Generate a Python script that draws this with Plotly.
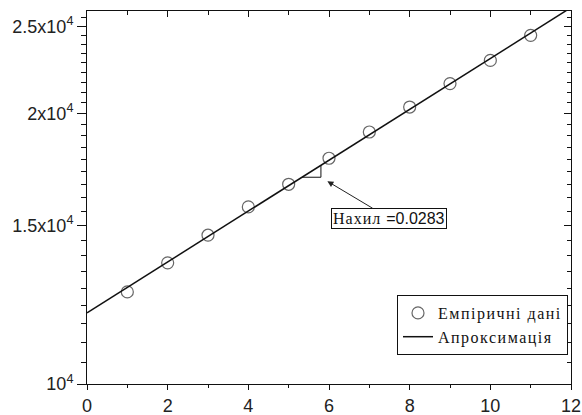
import numpy as np
import plotly.graph_objects as go

# ---- data ----
x_emp = [1, 2, 3, 4, 5, 6, 7, 8, 9, 10, 11]
y_emp = [12660, 13640, 14640, 15740, 16680, 17830, 19070, 20330, 21590, 22910, 24430]

fit_x = [0, 12]
fit_y = [12000, 26230]

slope_label = ["Нахил ", "=0.0283"]
tri_x = [5.33, 5.80]          # slope triangle corners (x)
arrow_head = [5.96, 16810]    # where the label's arrow points

y_major = [10000, 15000, 20000, 25000]
y_major_text = ["10<sup>4</sup>", "1.5x10<sup>4</sup>", "2x10<sup>4</sup>", "2.5x10<sup>4</sup>"]
x_major = [0, 2, 4, 6, 8, 10, 12]

legend_names = ["Емпіричні дані", "Апроксимація"]

# ---- helpers ----
def fit_at(xv):
    lx0, lx1 = fit_x
    ly0, ly1 = np.log10(fit_y[0]), np.log10(fit_y[1])
    return 10 ** (ly0 + (ly1 - ly0) * (xv - lx0) / (lx1 - lx0))

def spaced(t, px):
    return f"<span style='letter-spacing:{px}px'>{t}</span>"

y_top = 26000
y_minor = []
for m in y_major:
    for k in range(1, 9):
        v = m + k * 5000 / 9
        if v <= y_top:
            y_minor.append(v)

SANS = "Liberation Sans, Arial, sans-serif"
SERIF = "Liberation Serif, Times New Roman, serif"

fig = go.Figure()

fig.add_trace(go.Scatter(
    x=x_emp, y=y_emp, mode="markers", name=spaced(legend_names[0], 1.5),
    marker=dict(symbol="circle-open", size=12, color="#666666", line=dict(width=1.2, color="#666666")),
))
fig.add_trace(go.Scatter(
    x=fit_x, y=fit_y, mode="lines", name=spaced(legend_names[1], 1.5),
    line=dict(color="#111111", width=1.5),
))

# slope triangle
ta, tb = tri_x
fig.add_trace(go.Scatter(
    x=[ta, tb, tb], y=[fit_at(ta), fit_at(ta), fit_at(tb)],
    mode="lines", line=dict(color="#111111", width=1), showlegend=False, hoverinfo="skip",
))

# invisible trace for the mirrored (top/right) axes
fig.add_trace(go.Scatter(x=[0], y=[10000], xaxis="x2", yaxis="y2", mode="markers",
                         marker=dict(opacity=0), showlegend=False, hoverinfo="skip"))

fig.add_annotation(
    x=arrow_head[0], y=np.log10(arrow_head[1]), xref="x", yref="y",
    text=(f"<span style='font-family:{SERIF};letter-spacing:1px'>{slope_label[0]}</span>"
          f"<span style='font-family:{SANS}'>{slope_label[1]}</span>"),
    showarrow=True, ax=62, ay=37, arrowhead=2, arrowsize=1.2, arrowwidth=1, arrowcolor="#222222",
    bordercolor="#111111", borderwidth=1, borderpad=1, bgcolor="white",
    font=dict(family=SERIF, size=16, color="#111111"),
)

axis_common = dict(showline=True, linecolor="#111111", linewidth=1, showgrid=False,
                   zeroline=False, automargin=False)

fig.update_layout(
    width=582, height=415,
    margin=dict(l=87, r=11, t=11, b=31),
    paper_bgcolor="white", plot_bgcolor="white",
    xaxis=dict(range=[0, 12], tickvals=x_major, ticks="outside", ticklen=5, tickcolor="#111111",
               tickfont=dict(family=SANS, size=18, color="#222222"),
               minor=dict(dtick=1, tick0=0, ticks="outside", ticklen=3, tickcolor="#111111"),
               **axis_common),
    yaxis=dict(type="log", range=[4, np.log10(y_top)], tickvals=y_major, ticktext=y_major_text,
               ticks="outside", ticklen=9, tickcolor="#111111",
               tickfont=dict(family=SANS, size=18, color="#222222"),
               minor=dict(tickvals=y_minor, ticks="outside", ticklen=5, tickcolor="#111111"),
               **axis_common),
    xaxis2=dict(range=[0, 12], overlaying="x", side="top", tickvals=x_major, showticklabels=False,
                ticks="inside", ticklen=6, tickcolor="#111111",
                minor=dict(dtick=1, tick0=0, ticks="inside", ticklen=4, tickcolor="#111111"),
                **axis_common),
    yaxis2=dict(type="log", range=[4, np.log10(y_top)], overlaying="y", side="right",
                tickvals=y_major, showticklabels=False, ticks="inside", ticklen=7, tickcolor="#111111",
                minor=dict(tickvals=y_minor, ticks="inside", ticklen=4, tickcolor="#111111"),
                **axis_common),
    showlegend=True,
    legend=dict(x=0.9938, xanchor="right", y=0.2386, yanchor="top",
                bgcolor="white", bordercolor="#111111", borderwidth=1,
                font=dict(family=SERIF, size=16, color="#111111"),
                tracegroupgap=0, itemwidth=30),
)

fig.write_html("out.html", config={"displayModeBar": False},
               post_script="document.body.style.margin='0';")
